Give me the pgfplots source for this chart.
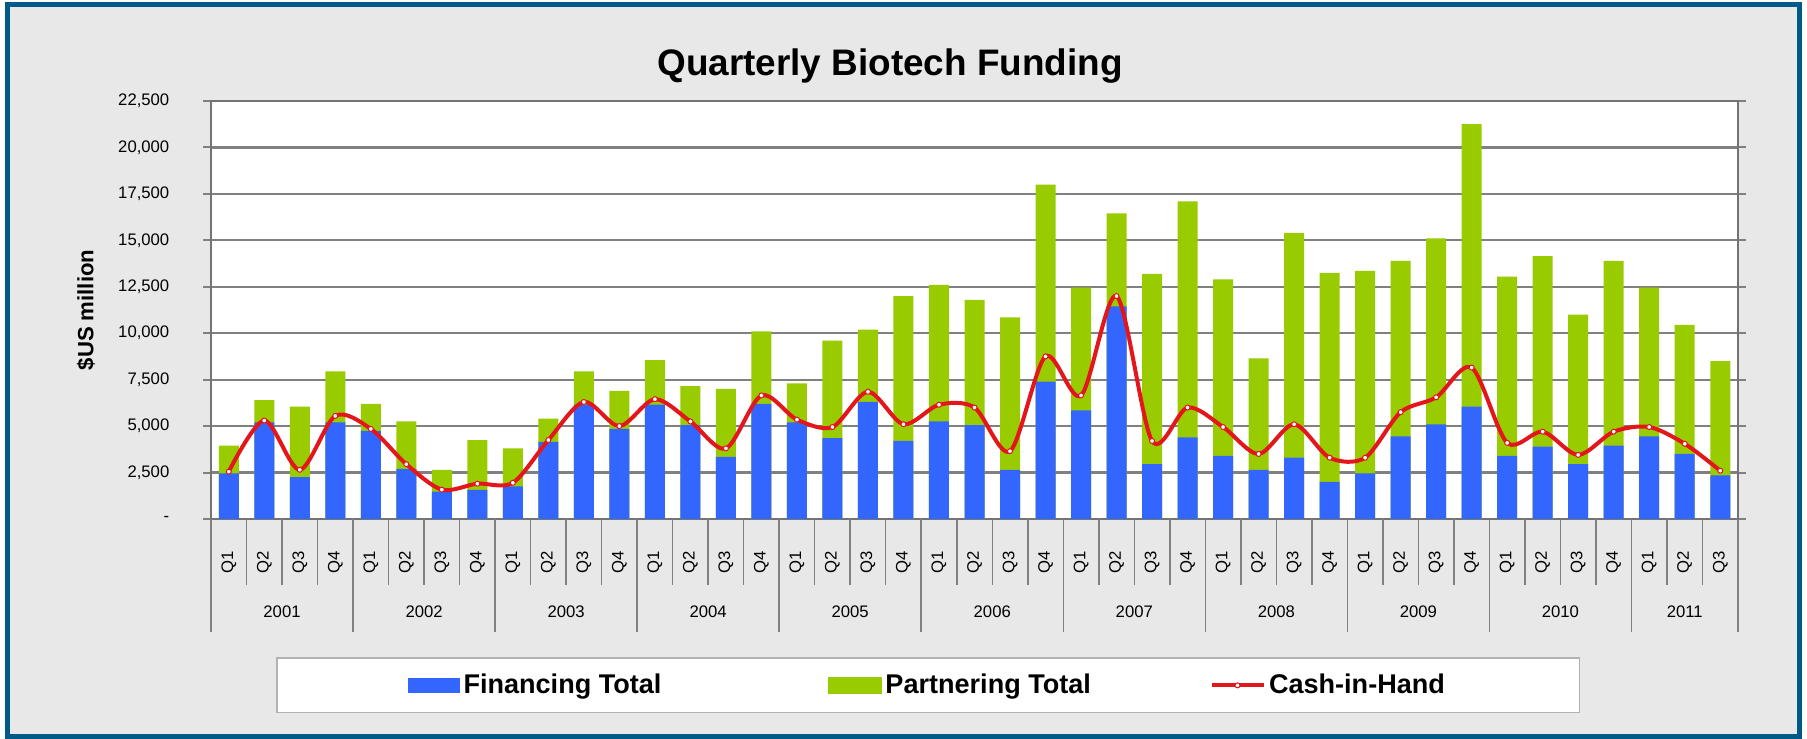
\documentclass[border=0pt]{standalone}
\usepackage{fontspec}
\setmainfont{Liberation Sans}
\usepackage{pgfplots}
\usepackage{pgfplotstable}
\pgfplotsset{compat=1.18}

\definecolor{finblue}{HTML}{3366FF}
\definecolor{partgreen}{HTML}{99CC00}
\definecolor{cashred}{HTML}{E3161B}
\definecolor{framebl}{HTML}{005A87}
\definecolor{panel}{HTML}{E8E8E8}
\definecolor{gridgray}{HTML}{808080}

% quarter index, financing, partnering, cash-in-hand ($US million)
\pgfplotstableread{
x  fin   part  cash
0  2450  1500  2550
1  5200  1200  5300
2  2250  3800  2650
3  5200  2750  5550
4  4750  1450  4850
5  2700  2550  2950
6  1480  1170  1580
7  1570  2680  1900
8  1760  2040  1950
9  4150  1250  4250
10 6150  1800  6300
11 4850  2050  5000
12 6150  2400  6450
13 5050  2100  5250
14 3350  3650  3800
15 6200  3900  6650
16 5200  2100  5350
17 4350  5250  4950
18 6300  3900  6850
19 4200  7800  5100
20 5250  7350  6150
21 5050  6750  6000
22 2650  8200  3650
23 7400  10600 8750
24 5850  6600  6650
25 11450 5000  12000
26 2950  10250 4200
27 4400  12700 6000
28 3400  9500  4950
29 2650  6000  3500
30 3300  12100 5100
31 2000  11250 3300
32 2450  10900 3300
33 4450  9450  5750
34 5100  10000 6550
35 6050  15200 8150
36 3400  9650  4100
37 3900  10250 4700
38 2950  8050  3450
39 3950  9950  4700
40 4450  8000  4950
41 3500  6950  4050
42 2350  6150  2600
}\funding

\begin{document}
\begin{tikzpicture}
% page background and frame
\fill[white] (0,0) rectangle (36.14,14.78);
\fill[panel] (0.15,0.05) rectangle (35.99,14.69);
\draw[framebl, line width=0.1cm] (0.15,0.05) rectangle (35.99,14.69);

\node[font=\fontsize{21}{25}\selectfont\bfseries] at (17.8,13.45) {Quarterly Biotech Funding};

\begin{axis}[
    at={(4.22cm,4.40cm)}, anchor=south west,
    width=30.54cm, height=8.36cm, scale only axis,
    axis background/.style={fill=white},
    ybar, bar width=0.40cm,
    xmin=-0.5, xmax=42.5, ymin=0, ymax=22500,
    clip=false,
    xtick={0,...,42},
    xticklabels={Q1,Q2,Q3,Q4,Q1,Q2,Q3,Q4,Q1,Q2,Q3,Q4,Q1,Q2,Q3,Q4,Q1,Q2,Q3,Q4,
                 Q1,Q2,Q3,Q4,Q1,Q2,Q3,Q4,Q1,Q2,Q3,Q4,Q1,Q2,Q3,Q4,Q1,Q2,Q3,Q4,Q1,Q2,Q3},
    xtick style={draw=none},
    xticklabel style={font=\fontsize{9.5}{11}\selectfont, yshift=-0.70cm, rotate=90, anchor=center},
    scaled y ticks=false,
    ytick={0,2500,...,22500},
    yticklabels={-,{2,500},{5,000},{7,500},{10,000},{12,500},{15,000},{17,500},{20,000},{22,500}},
    ytick style={draw=gridgray, line width=0.04cm},
    major tick length=0.16cm, tick align=outside,
    yticklabel style={font=\fontsize{9.5}{11}\selectfont, xshift=-0.55cm},
    ymajorgrids,
    grid style={gridgray, line width=0.045cm},
    axis line style={black!55, line width=0.04cm},
    ylabel={\$US million},
    ylabel style={at={(axis description cs:-0.0819,0.5)}, anchor=center,
                  font=\fontsize{12.6}{15}\selectfont\bfseries},
    legend columns=3,
    legend style={at={(axis description cs:0.4697,-0.398)}, anchor=center,
        draw=black!30, line width=0.03cm, fill=white,
        inner xsep=2.62cm, inner ysep=0.25cm,
        font=\fontsize{15.4}{18}\selectfont\bfseries,
        /tikz/column 2/.append style={column sep=3.27cm},
        /tikz/column 4/.append style={column sep=2.3cm}},
]
% total height (financing + partnering) drawn first, financing on top of it
\addplot[fill=partgreen, draw=none, bar shift=0pt, forget plot]
    table[x=x, y expr=\thisrow{fin}+\thisrow{part}] {\funding};
\addplot[fill=finblue, draw=none, bar shift=0pt,
    legend image code/.code={\fill[finblue] (0cm,-0.15cm) rectangle (1.04cm,0.15cm);}]
    table[x=x, y=fin] {\funding};
\addlegendentry{Financing Total}
\addlegendimage{legend image code/.code={\fill[partgreen] (0cm,-0.15cm) rectangle (1.04cm,0.15cm);}}
\addlegendentry{Partnering Total}
\addplot[cashred, line width=0.08cm, smooth, tension=0.5,
    mark=*, mark size=0.05cm, mark options={fill=white, draw=cashred, line width=0.02cm},
    legend image code/.code={\draw[cashred, line width=0.08cm] (0cm,0cm) -- (1.04cm,0cm);
        \draw[cashred, fill=white, line width=0.02cm] (0.52cm,0cm) circle (0.05cm);}]
    table[x=x, y=cash] {\funding};
\addlegendentry{Cash-in-Hand}

% category separators below the axis
\pgfplotsinvokeforeach{-0.5,0.5,...,42.5}{
    \draw[gridgray, line width=0.03cm] (axis cs:#1,0) -- ++(0pt,-1.32cm);
}
\pgfplotsinvokeforeach{-0.5,3.5,...,39.5}{
    \draw[gridgray, line width=0.03cm] (axis cs:#1,0) -- ++(0pt,-2.26cm);
}
\draw[gridgray, line width=0.03cm] (axis cs:42.5,0) -- ++(0pt,-2.26cm);

\node[font=\fontsize{9.5}{11}\selectfont] at (axis cs:1.5,0)  [yshift=-1.86cm] {2001};
\node[font=\fontsize{9.5}{11}\selectfont] at (axis cs:5.5,0)  [yshift=-1.86cm] {2002};
\node[font=\fontsize{9.5}{11}\selectfont] at (axis cs:9.5,0)  [yshift=-1.86cm] {2003};
\node[font=\fontsize{9.5}{11}\selectfont] at (axis cs:13.5,0) [yshift=-1.86cm] {2004};
\node[font=\fontsize{9.5}{11}\selectfont] at (axis cs:17.5,0) [yshift=-1.86cm] {2005};
\node[font=\fontsize{9.5}{11}\selectfont] at (axis cs:21.5,0) [yshift=-1.86cm] {2006};
\node[font=\fontsize{9.5}{11}\selectfont] at (axis cs:25.5,0) [yshift=-1.86cm] {2007};
\node[font=\fontsize{9.5}{11}\selectfont] at (axis cs:29.5,0) [yshift=-1.86cm] {2008};
\node[font=\fontsize{9.5}{11}\selectfont] at (axis cs:33.5,0) [yshift=-1.86cm] {2009};
\node[font=\fontsize{9.5}{11}\selectfont] at (axis cs:37.5,0) [yshift=-1.86cm] {2010};
\node[font=\fontsize{9.5}{11}\selectfont] at (axis cs:41,0)   [yshift=-1.86cm] {2011};
\end{axis}
\end{tikzpicture}
\end{document}
